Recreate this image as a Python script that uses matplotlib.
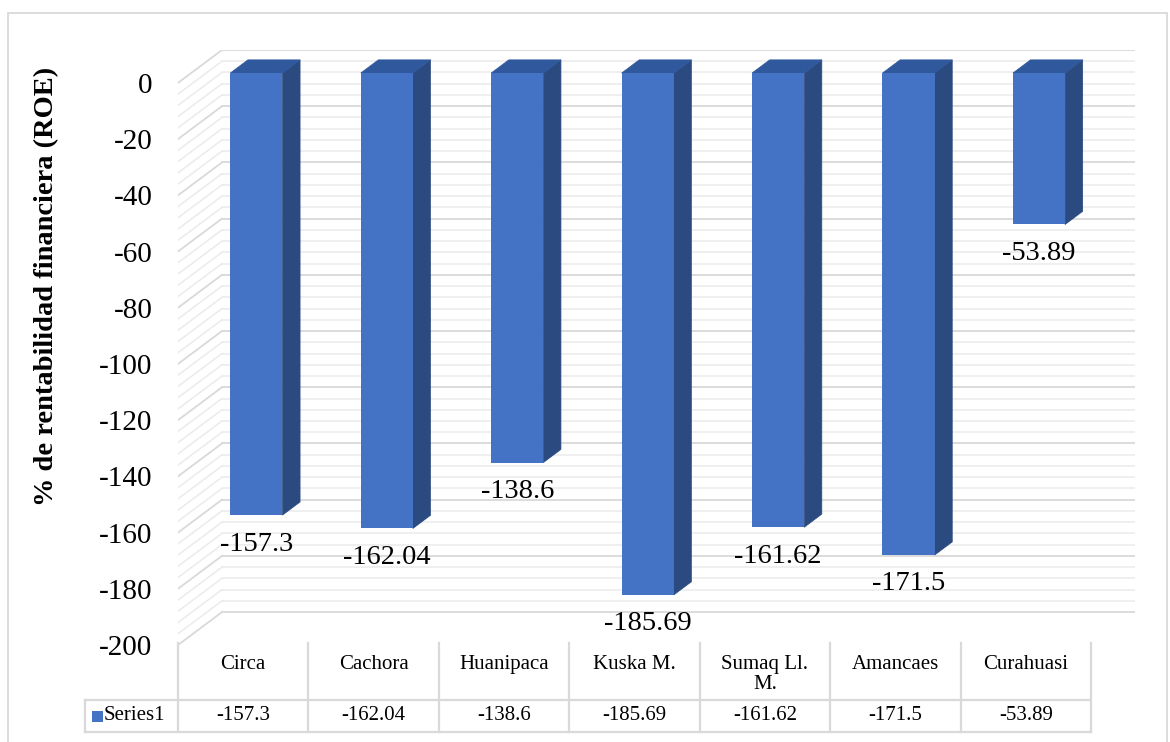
import matplotlib
matplotlib.use("Agg")
import matplotlib.pyplot as plt
from matplotlib.patches import Polygon, Rectangle
import numpy as np

plt.rcParams['font.family'] = ['Liberation Serif', 'DejaVu Serif']

# data
categories = ["Circa", "Cachora", "Huanipaca", "Kuska M.", "Sumaq Ll.\nM.", "Amancaes", "Curahuasi"]
roe = [-157.3, -162.04, -138.6, -185.69, -161.62, -171.5, -53.89]
series_name = "Series1"
yticks = list(range(-200, 1, 20))

W, H = 1170, 742
def fx(px): return px / W
def fy(py): return 1 - py / H

front = '#4472c4'
top_c = '#30589c'
side_c = '#2b4a80'
major = '#d9d9d9'
minor = '#ebebeb'
tbl = '#d9d9d9'

DX, DY = 0.337, 11.7     # depth of the 3d box (category units, value units)
FB, BD = 0.30, 0.40      # bar front depth and bar depth (fraction)
BW = 0.4                 # bar width (gap 150%)

fig = plt.figure(figsize=(11.7, 7.42), dpi=100)
ax = fig.add_axes([fx(178), fy(645), fx(1135) - fx(178), fy(50) - fy(645)])
ax.set_xlim(-0.5, len(categories) - 0.5 + DX)
ax.set_ylim(-200, DY)
for s in ax.spines.values():
    s.set_visible(False)
ax.set_xticks([])
ax.set_yticks(yticks)
ax.set_yticklabels([str(t) for t in yticks], fontsize=21)
ax.tick_params(axis='y', length=0, pad=18.5)
ax.patch.set_visible(False)

# walls: back gridlines + left wall diagonals
x_l, x_r = -0.5, len(categories) - 0.5
for v in np.arange(-200, 1, 4):
    c = major if v % 20 == 0 else minor
    lw = 1.3 if v % 20 == 0 else 1.1
    ax.plot([x_l + DX, x_r + DX], [v + DY, v + DY], color=c, lw=lw, zorder=1)
    ax.plot([x_l, x_l + DX], [v, v + DY], color=c, lw=lw, zorder=1)

# 3d bars
for i, v in enumerate(roe):
    xc = i + FB * DX
    x0, x1 = xc - BW / 2, xc + BW / 2
    yt, yb = FB * DY, v + FB * DY
    ox, oy = BD * DX, BD * DY
    ax.add_patch(Polygon([(x1, yt), (x1 + ox, yt + oy), (x1 + ox, yb + oy), (x1, yb)],
                         closed=True, fc=side_c, ec=side_c, lw=0.5, zorder=3))
    ax.add_patch(Polygon([(x0, yt), (x1, yt), (x1 + ox, yt + oy), (x0 + ox, yt + oy)],
                         closed=True, fc=top_c, ec=top_c, lw=0.5, zorder=3))
    ax.bar(xc, v, width=BW, bottom=yt, color=front, zorder=4)
    ax.text(xc, yb - 10.3, str(v), ha='center', va='center', fontsize=20.5, zorder=5)

fig.text(fx(47), fy(286), "% de rentabilidad financiera (ROE)", rotation=90,
         ha='center', va='center', fontsize=20.5, fontweight='bold')

# data table
tax = fig.add_axes([fx(178), fy(732), fx(1135) - fx(178), fy(643) - fy(732)])
tax.set_xlim(ax.get_xlim())
tax.set_ylim(0, 1)
tax.axis('off')
row_split = 0.36
x_lab = -0.5 + (85 - 178) / 130.4
for k in range(len(categories) + 1):
    tax.plot([k - 0.5, k - 0.5], [0, 1], color=tbl, lw=1.6, clip_on=False)
tax.plot([x_lab, x_r], [row_split, row_split], color=tbl, lw=1.6, clip_on=False)
tax.plot([x_lab, x_r], [0, 0], color=tbl, lw=1.6, clip_on=False)
tax.plot([x_lab, x_lab], [0, row_split], color=tbl, lw=1.6, clip_on=False)
for i, (c, v) in enumerate(zip(categories, roe)):
    tax.text(i, 0.87, c, ha='center', va='top', fontsize=15, linespacing=1.1)
    tax.text(i, 0.18, str(v), ha='center', va='center', fontsize=15)
tax.add_patch(Rectangle((x_lab + 0.054, 0.112), 0.086, 0.128, fc=front, ec='none', clip_on=False))
tax.text(x_lab + 0.146, 0.18, series_name, ha='left', va='center', fontsize=15)

# chart border
fig.add_artist(Rectangle((fx(8), fy(760)), fx(1167) - fx(8), fy(13) - fy(760),
                         transform=fig.transFigure, fill=False, ec='#d9d9d9', lw=1.3))

fig.savefig("out.png", dpi=100)
